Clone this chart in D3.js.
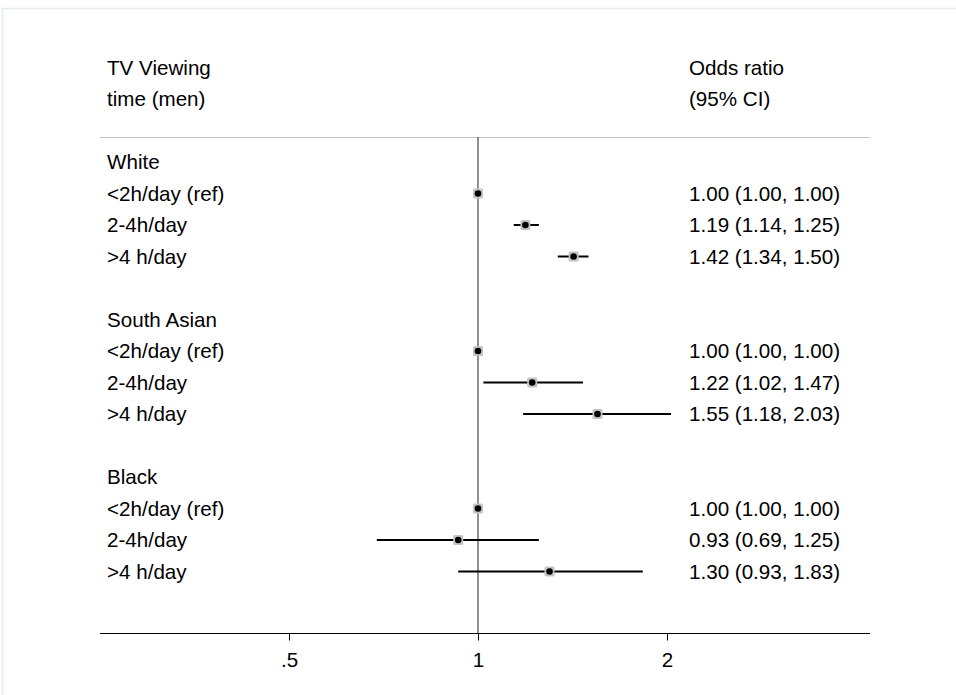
<!DOCTYPE html>
<html>
<head>
<meta charset="utf-8">
<script src="https://cdn.jsdelivr.net/npm/d3@7"></script>
<style>
  body { margin: 0; background: #fff; }
  svg text { font-family: "Liberation Sans", Arial, sans-serif; font-size: 20.6px; fill: #000; }
</style>
</head>
<body>
<svg id="chart" width="956" height="695"></svg>
<script>
// rows of the forest plot, top to bottom (null = heading / blank line)
const labels = ["White", "<2h/day (ref)", "2-4h/day", ">4 h/day", "",
                "South Asian", "<2h/day (ref)", "2-4h/day", ">4 h/day", "",
                "Black", "<2h/day (ref)", "2-4h/day", ">4 h/day"];
const estimate = [null, 1.00, 1.19, 1.42, null, null, 1.00, 1.22, 1.55, null, null, 1.00, 0.93, 1.30];
const lower    = [null, 1.00, 1.14, 1.34, null, null, 1.00, 1.02, 1.18, null, null, 1.00, 0.69, 0.93];
const upper    = [null, 1.00, 1.25, 1.50, null, null, 1.00, 1.47, 2.03, null, null, 1.00, 1.25, 1.83];
const tickVals = [0.5, 1, 2];
const tickText = [".5", "1", "2"];

const svg = d3.select("#chart");

// faint outer frame
svg.append("path")
  .attr("d", "M2.5,695 V8.5 H956")
  .attr("fill", "none").attr("stroke", "#e6ebef").attr("stroke-width", 1.5);

const x = d3.scaleLog().domain([0.5, 2]).range([289, 667]);
const y = d3.scaleLinear().domain([0, 13]).range([162, 571.5]);

const left = 107, right = 689;

// column headers
svg.append("text").attr("x", left).attr("y", 68).attr("dy", "0.35em").text("TV Viewing");
svg.append("text").attr("x", left).attr("y", 99).attr("dy", "0.35em").text("time (men)");
svg.append("text").attr("x", right).attr("y", 68).attr("dy", "0.35em").text("Odds ratio");
svg.append("text").attr("x", right).attr("y", 99).attr("dy", "0.35em").text("(95% CI)");

svg.append("line").attr("x1", 100).attr("x2", 870).attr("y1", 137.5).attr("y2", 137.5)
  .attr("stroke", "#c4c4c4").attr("stroke-width", 1.2);

// reference line at OR = 1
svg.append("line").attr("x1", x(1)).attr("x2", x(1)).attr("y1", 137).attr("y2", 633)
  .attr("stroke", "#555").attr("stroke-width", 1.3);

const rows = labels.map((l, i) => ({ label: l, est: estimate[i], lo: lower[i], hi: upper[i], i }));

svg.selectAll(".lab").data(rows.filter(d => d.label)).enter().append("text")
  .attr("x", left).attr("y", d => y(d.i)).attr("dy", "0.35em").text(d => d.label);

const pts = rows.filter(d => d.est !== null);
const f = d3.format(".2f");

svg.selectAll(".ci").data(pts.filter(d => d.lo !== d.hi)).enter().append("line")
  .attr("x1", d => x(d.lo)).attr("x2", d => x(d.hi))
  .attr("y1", d => y(d.i)).attr("y2", d => y(d.i))
  .attr("stroke", "#000").attr("stroke-width", 2);

svg.selectAll(".box").data(pts).enter().append("rect")
  .attr("x", d => x(d.est) - 5).attr("y", d => y(d.i) - 5)
  .attr("width", 10).attr("height", 10).attr("rx", 1.5).attr("fill", "#c4c4c4");

svg.selectAll(".dot").data(pts).enter().append("circle")
  .attr("cx", d => x(d.est)).attr("cy", d => y(d.i)).attr("r", 3.3).attr("fill", "#000");

svg.selectAll(".or").data(pts).enter().append("text")
  .attr("x", right).attr("y", d => y(d.i)).attr("dy", "0.35em")
  .text(d => `${f(d.est)} (${f(d.lo)}, ${f(d.hi)})`);

// x axis
svg.append("line").attr("x1", 100).attr("x2", 870).attr("y1", 633.5).attr("y2", 633.5)
  .attr("stroke", "#000").attr("stroke-width", 1.2);

const axis = svg.append("g").attr("transform", "translate(0,633.5)")
  .call(d3.axisBottom(x).tickValues(tickVals).tickFormat((d, i) => tickText[i]).tickSizeOuter(0).tickSize(7).tickPadding(12));
axis.select(".domain").remove();
axis.selectAll(".tick line").attr("stroke", "#000");
axis.selectAll(".tick text").style("font-size", "20.6px").attr("font-family", null);
</script>
</body>
</html>
